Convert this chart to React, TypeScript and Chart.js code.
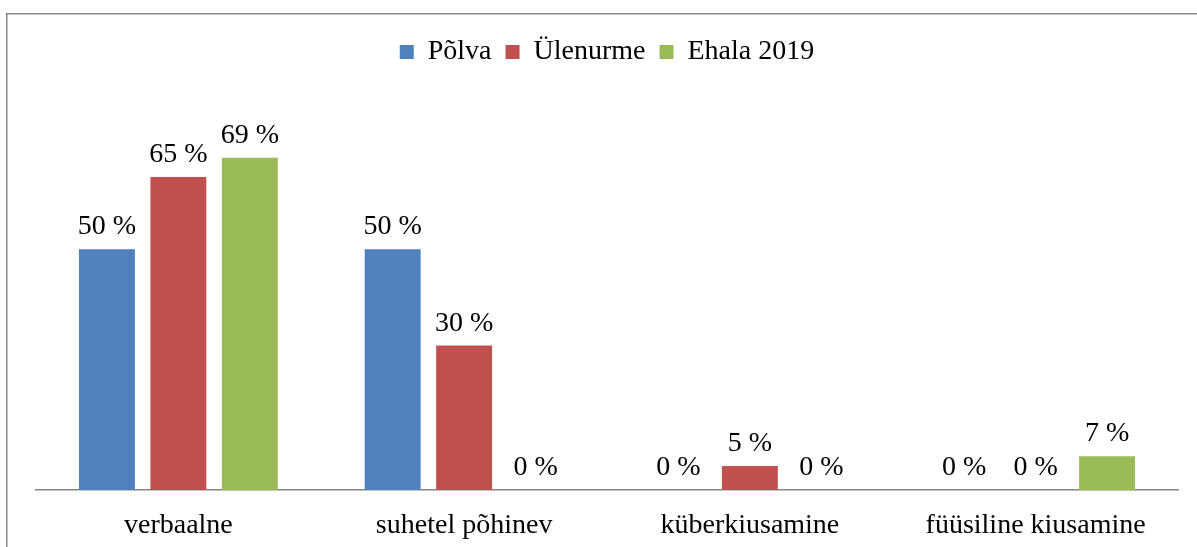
import React, { useEffect, useRef } from "react";
import { Chart, registerables } from "chart.js";

Chart.register(...registerables);

const categories = ["verbaalne", "suhetel põhinev", "küberkiusamine", "füüsiline kiusamine"];
const seriesNames = ["Põlva", "Ülenurme", "Ehala 2019"];
const polva = [50, 50, 0, 0];
const ylenurme = [65, 30, 5, 0];
const ehala = [69, 0, 0, 7];
const colors = ["#4F81BD", "#C0504D", "#9BBB59"];

const FONT = "'Liberation Serif', serif";
const FS = 28;

const framePlugin = {
  id: "frame",
  beforeDraw(chart: any) {
    const ctx = chart.ctx;
    ctx.save();
    ctx.strokeStyle = "#878787";
    ctx.lineWidth = 1.5;
    ctx.strokeRect(6.75, 13.75, 1400, 800);
    ctx.restore();
  },
};

const labelPlugin = {
  id: "valueLabels",
  afterDatasetsDraw(chart: any) {
    const ctx = chart.ctx;
    ctx.save();
    ctx.font = `${FS}px ${FONT}`;
    ctx.fillStyle = "#000";
    ctx.textAlign = "center";
    ctx.textBaseline = "alphabetic";
    chart.data.datasets.forEach((ds: any, i: number) => {
      const meta = chart.getDatasetMeta(i);
      meta.data.forEach((el: any, j: number) => {
        const v = ds.data[j];
        ctx.fillText(`${v} %`, el.x, el.y - 15);
      });
    });
    ctx.restore();
  },
};

export default function App() {
  const ref = useRef<HTMLCanvasElement | null>(null);
  useEffect(() => {
    if (!ref.current) return;
    const chart = new Chart(ref.current, {
      type: "bar",
      data: {
        labels: categories,
        datasets: [polva, ylenurme, ehala].map((d, i) => ({
          label: seriesNames[i],
          data: d,
          backgroundColor: colors[i],
          categoryPercentage: 0.75,
          barPercentage: 0.783,
        })),
      },
      options: {
        responsive: false,
        animation: false,
        layout: { padding: { left: 35.5, right: 18.5, top: 24, bottom: 8.4 } },
        plugins: {
          legend: {
            position: "top",
            labels: {
              boxWidth: 14,
              boxHeight: 14,
              padding: 14,
              color: "#000",
              font: { family: FONT, size: FS },
            },
          },
          tooltip: { enabled: false },
        },
        scales: {
          x: {
            grid: { display: false, drawTicks: false },
            border: { display: true, color: "#868686", width: 1.5 },
            ticks: { color: "#000", font: { family: FONT, size: FS }, padding: 19 },
          },
          y: { display: false, min: 0, max: 86 },
        },
      },
      plugins: [framePlugin, labelPlugin],
    });
    return () => chart.destroy();
  }, []);
  return (
    <div style={{ position: "fixed", left: 0, top: 0, width: 1197, height: 570, background: "#fff" }}>
      <canvas ref={ref} width={1197} height={570} style={{ width: 1197, height: 570 }} />
    </div>
  );
}
